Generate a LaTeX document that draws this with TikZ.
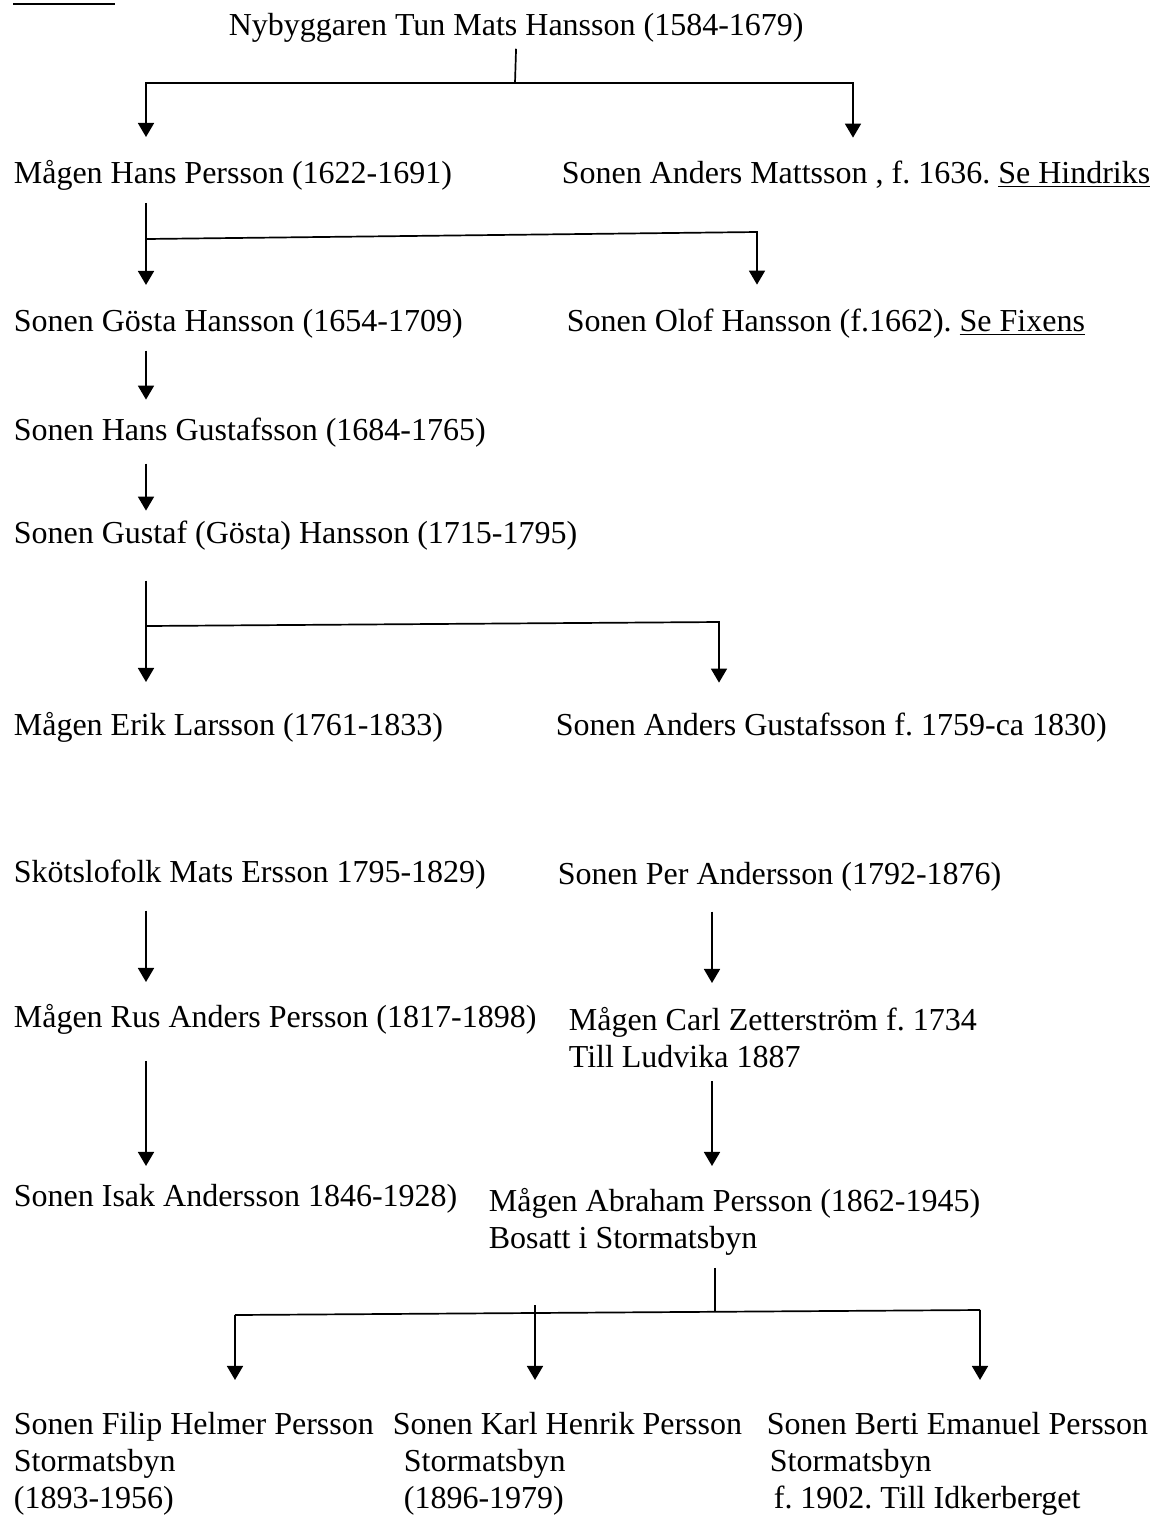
\documentclass[tikz,border=0pt]{standalone}
\usepackage{fontspec}
\setmainfont{Liberation Serif}
\usetikzlibrary{arrows.meta}
\frenchspacing

\begin{document}
\begin{tikzpicture}[x=0.5pt,y=-0.5pt,line width=0.85pt,
  person/.style={anchor=base west,inner sep=0pt,align=left,
    font=\fontsize{16}{18.5}\selectfont},
  arr/.style={-{Triangle[length=7pt,width=8pt]}}]
\useasboundingbox (0,0) rectangle (1155,1517);
\draw[line width=1pt] (13,4) -- (115,4);

\node[person] (tun) at (228,35) {Nybyggaren Tun Mats Hansson (1584-1679)};
\node[person] (hans) at (13,183) {Mågen Hans Persson (1622-1691)};
\node[person] (anders) at (561,183) {Sonen Anders Mattsson , f. 1636. \underline{Se Hindriks}};
\node[person] (gosta) at (13,331) {Sonen Gösta Hansson (1654-1709)};
\node[person] (olof) at (566,331) {Sonen Olof Hansson (f.1662). \underline{Se Fixens}};
\node[person] (hgus) at (13,440) {Sonen Hans Gustafsson (1684-1765)};
\node[person] (gustaf) at (13,543) {Sonen Gustaf (Gösta) Hansson (1715-1795)};
\node[person] (erik) at (13,735) {Mågen Erik Larsson (1761-1833)};
\node[person] (andg) at (555,735) {Sonen Anders Gustafsson f. 1759-ca 1830)};
\node[person] (mats) at (13,882) {Skötslofolk Mats Ersson 1795-1829)};
\node[person] (per) at (557,884) {Sonen Per Andersson (1792-1876)};
\node[person] (rus) at (13,1027) {Mågen Rus Anders Persson (1817-1898)};
\node[person] (carl) at (568,1067) {Mågen Carl Zetterström f. 1734\\Till Ludvika 1887};
\node[person] (isak) at (13,1206) {Sonen Isak Andersson 1846-1928)};
\node[person] (abraham) at (488,1248) {Mågen Abraham Persson (1862-1945)\\Bosatt i Stormatsbyn};
\node[person] (filip) at (13,1508) {Sonen Filip Helmer Persson\\Stormatsbyn\\(1893-1956)};
\node[person] (karl) at (392,1508) {Sonen Karl Henrik Persson\\\hspace*{5.5pt}Stormatsbyn\\\hspace*{5.5pt}(1896-1979)};
\node[person] (berti) at (766,1508) {Sonen Berti Emanuel Persson\\\hspace*{1.5pt}Stormatsbyn\\\hspace*{3.5pt}f. 1902. Till Idkerberget};

\coordinate (colA) at (146,0);
\coordinate (colB) at (712,0);
\coordinate (j1) at (515,83);
\coordinate (j1l) at (146,83);
\coordinate (j1r) at (853,83);
\coordinate (j2l) at (146,239);
\coordinate (j2r) at (757,232);
\coordinate (j3l) at (146,626);
\coordinate (j3r) at (719,622);
\coordinate (j4) at (715,1312);
\coordinate (j4l) at (235,1315);
\coordinate (j4m) at (535,1305);
\coordinate (j4r) at (980,1310);

\draw[shorten <=3pt] (tun.south) -- (j1);
\draw[arr,shorten >=11pt] (j1) -- (j1l) -- (hans.north -| j1l);
\draw[arr,shorten >=11pt] (j1) -- (j1r) -- (anders.north -| j1r);
\draw[arr,shorten <=6pt,shorten >=11.5pt] (hans.south -| colA) -- (gosta.north -| colA);
\draw[arr,shorten >=11.5pt] (j2l) -- (j2r) -- (olof.north -| j2r);
\draw[arr,shorten <=6pt,shorten >=8.5pt] (gosta.south -| colA) -- (hgus.north -| colA);
\draw[arr,shorten <=8pt,shorten >=4.5pt] (hgus.south -| colA) -- (gustaf.north -| colA);
\draw[arr,shorten <=15pt,shorten >=14.5pt] (gustaf.south -| colA) -- (erik.north -| colA);
\draw[arr,shorten >=14.5pt] (j3l) -- (j3r) -- (andg.north -| j3r);
\draw[arr,shorten <=10.5pt,shorten >=10.5pt] (mats.south -| colA) -- (rus.north -| colA);
\draw[arr,shorten <=10pt,shorten >=11.5pt] (per.south -| colB) -- (carl.north -| colB);
\draw[arr,shorten <=13pt,shorten >=8.5pt] (rus.south -| colA) -- (isak.north -| colA);
\draw[arr,shorten <=6.5pt,shorten >=10.5pt] (carl.south -| colB) -- (abraham.north -| colB);
\draw[shorten <=6pt] (abraham.south -| j4) -- (j4);
\draw (j4l) -- (j4r);
\draw[arr,shorten >=15.5pt] (j4l) -- (filip.north -| j4l);
\draw[arr,shorten >=15.5pt] (j4m) -- (karl.north -| j4m);
\draw[arr,shorten >=15.5pt] (j4r) -- (berti.north -| j4r);
\end{tikzpicture}
\end{document}
